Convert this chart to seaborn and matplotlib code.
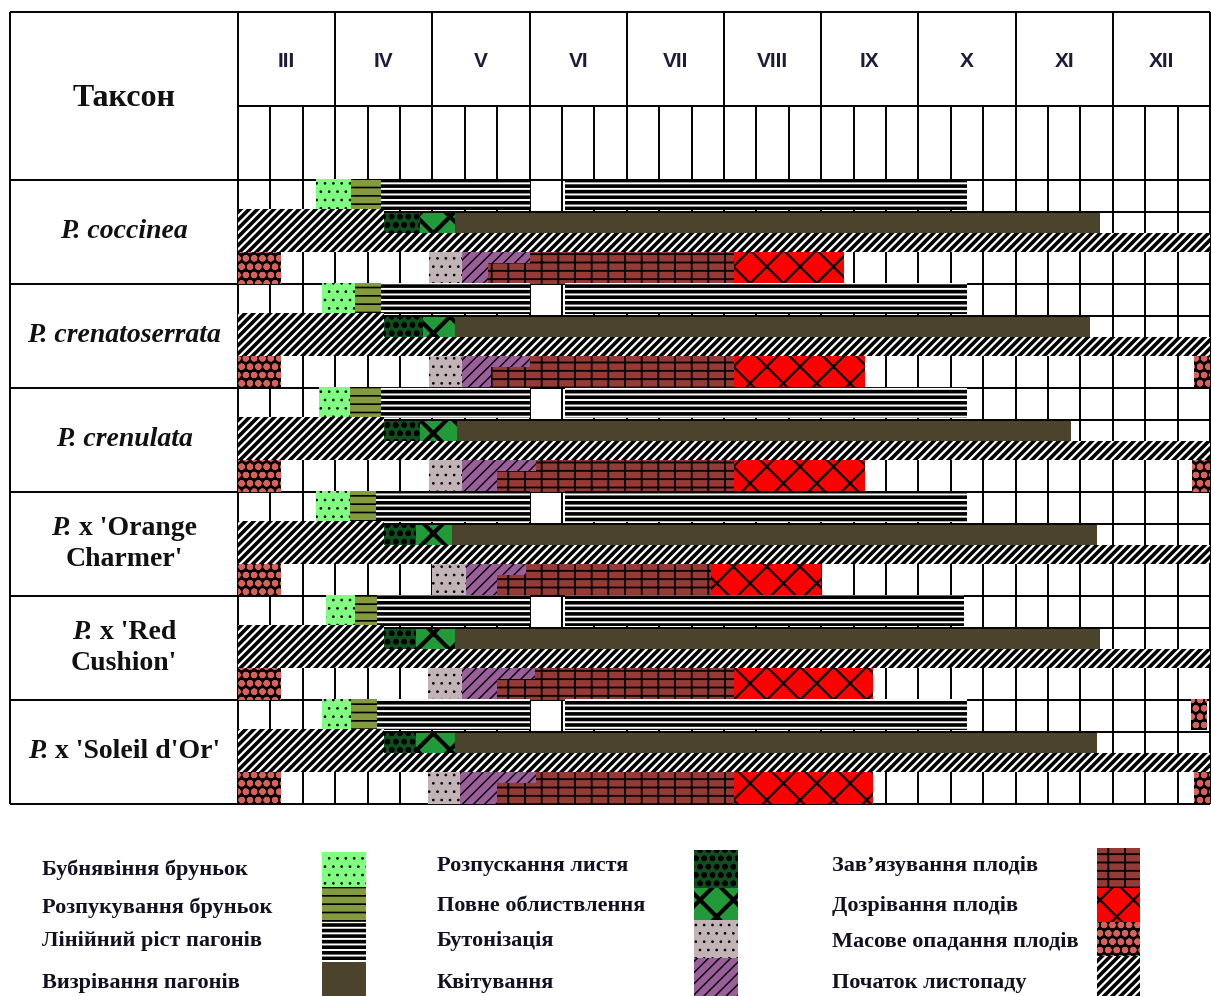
import matplotlib
matplotlib.use("Agg")
import matplotlib.pyplot as plt
from matplotlib.patches import Rectangle
import numpy as np
import seaborn as sns

sns.set_theme(style="white")
plt.rcParams["font.family"] = ["Liberation Serif", "DejaVu Sans"]
plt.rcParams["hatch.linewidth"] = 1.0

# ---- data: dates in decades counted from 1 March (3 decades per month) ----
months = ["III", "IV", "V", "VI", "VII", "VIII", "IX", "X", "XI", "XII"]
taxa = ["P. coccinea", "P. crenatoserrata", "P. crenulata",
        "P. x 'Orange\nCharmer'", "P. x 'Red\nCushion'", "P. x 'Soleil d'Or'"]

bud_swell_start = [2.4, 2.6, 2.5, 2.4, 2.7, 2.6]
bud_break_start = [3.5, 3.6, 3.45, 3.45, 3.6, 3.5]
shoot_growth_start = [4.4, 4.4, 4.4, 4.25, 4.3, 4.3]
growth_pause_start = [9.0, 9.0, 9.0, 9.0, 9.0, 9.0]
growth_pause_end = [10.1, 10.1, 10.1, 10.1, 10.1, 10.1]
shoot_growth_end = [22.5, 22.5, 22.5, 22.5, 22.4, 22.5]

leaf_fall_old_end = [4.5, 4.5, 4.5, 4.5, 4.5, 4.5]
leaf_unfold_start = [4.5, 4.5, 4.5, 4.5, 4.5, 4.5]
full_leaf_start = [5.6, 5.7, 5.6, 5.5, 5.5, 5.5]
maturation_start = [6.7, 6.7, 6.75, 6.6, 6.7, 6.7]
maturation_end = [26.6, 26.3, 25.7, 26.5, 26.6, 26.5]

budding_start = [5.9, 5.9, 5.9, 6.0, 5.85, 5.85]
flowering_start = [6.9, 6.9, 6.9, 7.05, 6.9, 6.85]
flowering_end = [9.0, 9.0, 9.2, 8.9, 9.15, 9.2]
flowering_end_low = [7.7, 7.8, 8.0, 8.0, 8.0, 8.0]
fruit_set_end = [15.3, 15.3, 15.3, 14.6, 15.3, 15.3]
ripening_end = [18.7, 19.35, 19.35, 18.0, 19.6, 19.6]

fruit_drop_end = [1.33, 1.33, 1.33, 1.33, 1.33, 1.33]
fruit_drop_late_start = [None, 29.5, 29.45, None, None, 29.5]
fruit_drop_top_start = [None, None, None, None, None, 29.4]
fruit_drop_top_end = [None, None, None, None, None, 29.9]

# ---- styles ----
styles = {
    "bud_swell":   dict(fc="#80FF80", hc="black", hatch="..", hlw=0.7),
    "bud_break":   dict(fc="#849A3E", hc="black", hatch="--", hlw=1.2),
    "growth":      dict(fc="white", hc="black", hatch="---", hlw=2.6),
    "maturation":  dict(fc="#4B432B", hc="#4B432B", hatch="", hlw=1.0),
    "leaf_unfold": dict(fc="#0F4F1E", hc="black", hatch="oo", hlw=1.6),
    "full_leaf":   dict(fc="#229A3A", hc="black", hatch="x", hlw=3.0),
    "budding":     dict(fc="#C2B3B7", hc="black", hatch="..", hlw=0.7),
    "flowering":   dict(fc="#9A5E9A", hc="black", hatch="///", hlw=1.0),
    "fruit_set":   dict(fc="#963A36", hc="black", hatch="-+", hlw=1.3),
    "ripening":    dict(fc="#FF0000", hc="black", hatch="x", hlw=1.6),
    "fruit_drop":  dict(fc="black", hc="#D9605A", hatch="oo", hlw=2.2),
    "leaf_fall":   dict(fc="white", hc="black", hatch="////", hlw=2.6),
}

bands = {"top": (-0.01, 0.285), "mid": (0.315, 0.51), "leaf": (0.51, 0.69),
         "leaf_old": (0.28, 0.69), "bot": (0.69, 1.0),
         "bot_up": (0.69, 0.80), "bot_lo": (0.80, 1.0)}

W, H = 1211, 996
X0, X1 = -7.04, 30.0
Y0, YM, Y1 = -1.615, -0.712, 6.0

fig = plt.figure(figsize=(W / 100, H / 100), dpi=100)
ax = fig.add_axes([10 / W, 1 - 804 / H, 1200 / W, 792 / H])
ax.set_xlim(X0, X1)
ax.set_ylim(Y1, Y0)
ax.axis("off")


def fix_hatch(p, st):
    if hasattr(p, "set_hatch_linewidth"):
        p.set_hatch_linewidth(st["hlw"])


def bar(i, start, end, band, phase):
    st = styles[phase]
    y0, y1 = bands[band]
    with plt.rc_context({"hatch.linewidth": st["hlw"]}):
        bars = ax.barh(i + y0, end - start, left=start, height=y1 - y0,
                       align="edge", color=st["fc"], edgecolor=st["hc"],
                       hatch=st["hatch"], linewidth=0, zorder=3)
    for p in bars:
        fix_hatch(p, st)


# ---- grid ----
lw = 1.4
dec = [d for d in range(1, 30) if d % 3]
ax.vlines(dec, YM, Y1, color="black", lw=lw, zorder=1)
ax.vlines(np.arange(0, 31, 3), Y0, Y1, color="black", lw=lw, zorder=1, clip_on=False)
ax.vlines(X0, Y0, Y1, color="black", lw=lw, zorder=1, clip_on=False)
ax.hlines(Y0, X0, X1, color="black", lw=lw, zorder=1, clip_on=False)
ax.hlines(YM, 0, X1, color="black", lw=lw, zorder=1)
ax.hlines(np.arange(0, 7), X0, X1, color="black", lw=lw, zorder=1, clip_on=False)
ax.hlines(np.arange(6) + 0.31, 0, X1, color="black", lw=lw, zorder=1)

for k, m in enumerate(months):
    ax.text(3 * k + 1.5, (Y0 + YM) / 2 + 0.02, m, ha="center", va="center",
            fontsize=15, fontweight="bold", color="#1c1c3a",
            family=["Liberation Sans Narrow", "Liberation Sans", "DejaVu Sans"])
ax.text(X0 / 2, Y0 / 2 + 0.02, "Таксон", ha="center", va="center",
        fontsize=23, fontweight="bold", color="#111111")

# ---- phase bars ----
for i in range(len(taxa)):
    bar(i, bud_swell_start[i], bud_break_start[i], "top", "bud_swell")
    bar(i, bud_break_start[i], shoot_growth_start[i], "top", "bud_break")
    bar(i, shoot_growth_start[i], growth_pause_start[i], "top", "growth")
    bar(i, growth_pause_end[i], shoot_growth_end[i], "top", "growth")

    bar(i, 0, leaf_fall_old_end[i], "leaf_old", "leaf_fall")
    bar(i, 0, 30, "leaf", "leaf_fall")
    bar(i, leaf_unfold_start[i], full_leaf_start[i], "mid", "leaf_unfold")
    bar(i, full_leaf_start[i], maturation_start[i], "mid", "full_leaf")
    bar(i, maturation_start[i], maturation_end[i], "mid", "maturation")

    bar(i, 0, fruit_drop_end[i], "bot", "fruit_drop")
    bar(i, budding_start[i], flowering_start[i], "bot", "budding")
    bar(i, flowering_start[i], flowering_end[i], "bot_up", "flowering")
    bar(i, flowering_start[i], flowering_end_low[i], "bot_lo", "flowering")
    bar(i, flowering_end[i], fruit_set_end[i], "bot_up", "fruit_set")
    bar(i, flowering_end_low[i], fruit_set_end[i], "bot_lo", "fruit_set")
    bar(i, fruit_set_end[i], ripening_end[i], "bot", "ripening")
    if fruit_drop_late_start[i] is not None:
        bar(i, fruit_drop_late_start[i], 30, "bot", "fruit_drop")
    if fruit_drop_top_start[i] is not None:
        bar(i, fruit_drop_top_start[i], fruit_drop_top_end[i], "top", "fruit_drop")

# ---- taxon labels (genus italic, cultivar upright) ----
label_lines = []
for i, name in enumerate(taxa):
    lines = name.split("\n")
    n = len(lines)
    for k, line in enumerate(lines):
        y = i + 0.5 + (k - (n - 1) / 2) * 0.29
        if k == 0 and line.startswith("P. x"):
            parts = [("P.", "italic"), (line[2:], "normal")]
        elif k == 0:
            parts = [(line, "italic")]
        else:
            parts = [(line, "normal")]
        first = ax.text(X0 / 2, y, parts[0][0], style=parts[0][1], ha="left",
                        va="center", fontsize=20, fontweight="bold", color="#111111")
        items = [first]
        for txt, st in parts[1:]:
            items.append(ax.annotate(txt, xy=(1, 0), xycoords=items[-1], ha="left",
                                     va="bottom", style=st, fontsize=20,
                                     fontweight="bold", color="#111111"))
        label_lines.append((items, y))

fig.canvas.draw()
px_per_unit = ax.transData.transform((1, 0))[0] - ax.transData.transform((0, 0))[0]
for items, y in label_lines:
    w = items[-1].get_window_extent().x1 - items[0].get_window_extent().x0
    items[0].set_position((X0 / 2 - w / px_per_unit / 2, y))

# ---- legend ----
lax = fig.add_axes([0, 0, 1, 1], zorder=5)
lax.set_xlim(0, W)
lax.set_ylim(H, 0)
lax.axis("off")
lax.patch.set_alpha(0)

legend_cols = [
    (42, 322, 366, [("Бубнявіння бруньок", "bud_swell", 870, 852, 887),
                    ("Розпукування бруньок", "bud_break", 908, 887, 922),
                    ("Лінійний ріст пагонів", "growth", 941, 923, 960),
                    ("Визрівання пагонів", "maturation", 983, 962, 996)]),
    (437, 694, 738, [("Розпускання листя", "leaf_unfold", 866, 850, 888),
                     ("Повне облиствлення", "full_leaf", 906, 888, 920),
                     ("Бутонізація", "budding", 941, 920, 958),
                     ("Квітування", "flowering", 983, 958, 996)]),
    (832, 1097, 1140, [("Зав’язування плодів", "fruit_set", 866, 848, 888),
                       ("Дозрівання плодів", "ripening", 906, 888, 922),
                       ("Масове опадання плодів", "fruit_drop", 941, 922, 956),
                       ("Початок листопаду", "leaf_fall", 983, 956, 996)]),
]
for tx, sx0, sx1, items in legend_cols:
    for label, phase, ty, sy0, sy1 in items:
        st = styles[phase]
        lax.text(tx, ty, label, ha="left", va="center", fontsize=16,
                 fontweight="bold", color="#111122")
        with plt.rc_context({"hatch.linewidth": st["hlw"]}):
            r = Rectangle((sx0, sy0), sx1 - sx0, sy1 - sy0, facecolor=st["fc"],
                          edgecolor=st["hc"], hatch=st["hatch"], linewidth=0)
        fix_hatch(r, st)
        lax.add_patch(r)

fig.savefig("out.png", dpi=100)
